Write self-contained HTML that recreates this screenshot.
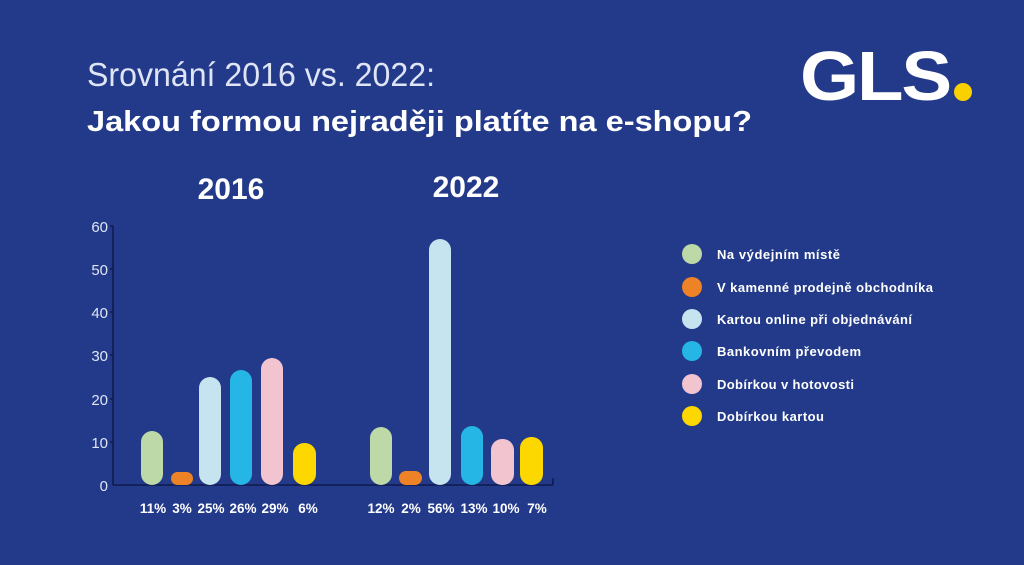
<!DOCTYPE html>
<html><head><meta charset="utf-8"><style>
body{margin:0;width:1024px;height:560px;background:#233a8a;overflow:hidden;font-family:"Liberation Sans",sans-serif}
</style></head><body>
<svg width="1024" height="560" xmlns="http://www.w3.org/2000/svg" font-family="Liberation Sans, sans-serif">
<rect width="1024" height="560" fill="#233a8a"/>
<text x="87" y="86" fill="#dfe5f5" font-size="33" font-weight="300" textLength="348" lengthAdjust="spacingAndGlyphs">Srovnání 2016 vs. 2022:</text>
<text x="87" y="131" fill="#fff" font-size="29" font-weight="bold" textLength="665" lengthAdjust="spacingAndGlyphs">Jakou formou nejraději platíte na e-shopu?</text>
<text x="800" y="100" fill="#fff" font-size="70" font-weight="bold" letter-spacing="-2" textLength="150" lengthAdjust="spacingAndGlyphs">GLS</text>
<circle cx="963" cy="92" r="9" fill="#f9d000"/>
<text x="231" y="199" fill="#fff" font-size="30" font-weight="bold" text-anchor="middle">2016</text>
<text x="466" y="197" fill="#fff" font-size="30" font-weight="bold" text-anchor="middle">2022</text>
<g stroke="#0e1a4a" stroke-width="1.5"><line x1="113" y1="226" x2="113" y2="485"/><line x1="113" y1="485" x2="553" y2="485"/><line x1="553" y1="478" x2="553" y2="485"/></g>
<g fill="#dfe5f5" font-size="15" text-anchor="end" font-weight="300">
<text x="108" y="232">60</text><text x="108" y="275">50</text><text x="108" y="318">40</text><text x="108" y="361">30</text><text x="108" y="405">20</text><text x="108" y="448">10</text><text x="108" y="491">0</text></g>
<g stroke="#0e1a4a" stroke-width="1.5"><line x1="110" y1="226" x2="113" y2="226"/><line x1="110" y1="269" x2="113" y2="269"/><line x1="110" y1="312" x2="113" y2="312"/><line x1="110" y1="355" x2="113" y2="355"/><line x1="110" y1="399" x2="113" y2="399"/><line x1="110" y1="442" x2="113" y2="442"/></g>
<g>
<rect x="141" y="431" width="22" height="54" rx="11" fill="#bdd9a7"/>
<rect x="171" y="472" width="22" height="13" rx="6.5" fill="#ee8226"/>
<rect x="199" y="377" width="22" height="108" rx="11" fill="#c6e4f0"/>
<rect x="230" y="370" width="22" height="115" rx="11" fill="#25b6e6"/>
<rect x="261" y="358" width="22" height="127" rx="11" fill="#f1c4cf"/>
<rect x="293" y="443" width="23" height="42" rx="11" fill="#fcd700"/>
<rect x="370" y="427" width="22" height="58" rx="11" fill="#bdd9a7"/>
<rect x="399" y="471" width="23" height="14" rx="7" fill="#ee8226"/>
<rect x="429" y="239" width="22" height="246" rx="11" fill="#c6e4f0"/>
<rect x="461" y="426" width="22" height="59" rx="11" fill="#25b6e6"/>
<rect x="491" y="439" width="23" height="46" rx="11" fill="#f1c4cf"/>
<rect x="520" y="437" width="23" height="48" rx="11" fill="#fcd700"/>
</g>
<g fill="#fff" font-size="13.5" font-weight="bold" text-anchor="middle">
<text x="153" y="513">11%</text><text x="182" y="513">3%</text><text x="211" y="513">25%</text><text x="243" y="513">26%</text><text x="275" y="513">29%</text><text x="308" y="513">6%</text>
<text x="381" y="513">12%</text><text x="411" y="513">2%</text><text x="441" y="513">56%</text><text x="474" y="513">13%</text><text x="506" y="513">10%</text><text x="537" y="513">7%</text>
</g>
<g font-size="13" font-weight="bold" fill="#fff" lengthAdjust="spacingAndGlyphs">
<circle cx="692" cy="254" r="10" fill="#bdd9a7"/><text x="717" y="259" textLength="123">Na výdejním místě</text>
<circle cx="692" cy="287" r="10" fill="#ee8226"/><text x="717" y="292" textLength="216">V kamenné prodejně obchodníka</text>
<circle cx="692" cy="319" r="10" fill="#c6e4f0"/><text x="717" y="324" textLength="195">Kartou online při objednávání</text>
<circle cx="692" cy="351" r="10" fill="#25b6e6"/><text x="717" y="356" textLength="144">Bankovním převodem</text>
<circle cx="692" cy="384" r="10" fill="#f1c4cf"/><text x="717" y="389" textLength="137">Dobírkou v hotovosti</text>
<circle cx="692" cy="416" r="10" fill="#fcd700"/><text x="717" y="421" textLength="107">Dobírkou kartou</text>
</g>
</svg>
</body></html>
